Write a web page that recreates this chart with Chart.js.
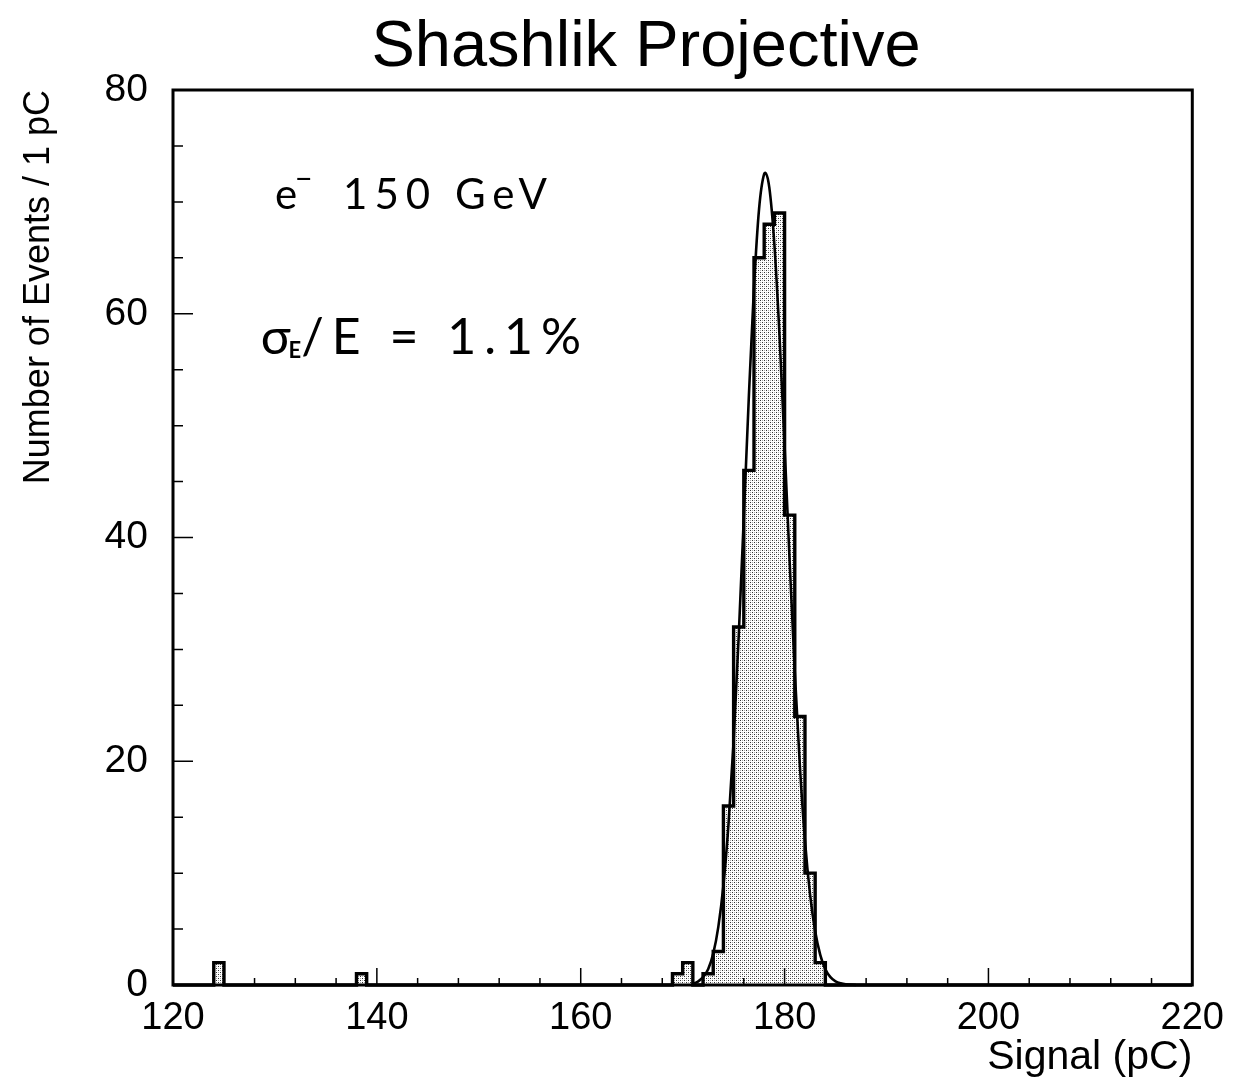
<!DOCTYPE html>
<html>
<head>
<meta charset="utf-8">
<script src="https://cdn.jsdelivr.net/npm/chart.js@4.4.1/dist/chart.umd.min.js"></script>
<style>
  html, body { margin: 0; padding: 0; background: #fff; }
  #wrap { width: 1235px; height: 1090px; }
</style>
</head>
<body>
<div id="wrap"><canvas id="signalChart"></canvas></div>
<script>
// 1 pC bins: low edge of each filled bin and its entries (all other bins are empty)
const binLow = [124, 138, 169, 170, 171, 172, 173, 174, 175, 176, 177, 178, 179, 180, 181, 182, 183];
const counts = [2, 1, 1, 2, 0, 1, 3, 16, 32, 46, 65, 68, 69, 42, 24, 10, 2];

// gaussian fit drawn over the peak
const fitX = [171, 171.5, 172, 172.5, 173, 173.5, 174, 174.5, 175, 175.5, 176, 176.5, 177, 177.5, 178, 178.1,
              178.5, 179, 179.5, 180, 180.5, 181, 181.5, 182, 182.5, 183, 183.5, 184, 184.5, 185, 185.5, 186, 187];
const fitY = [0.1, 0.3, 0.7, 1.4, 2.8, 5.2, 8.9, 14.4, 21.8, 31.2, 41.8, 52.7, 62.4, 69.4, 72.5, 72.6,
              71.3, 66.2, 58.1, 48.2, 37.8, 28.0, 19.6, 12.9, 8.1, 4.8, 2.7, 1.4, 0.7, 0.33, 0.15, 0.06, 0];

const xRange = [120, 220];
const yRange = [0, 80];

// step outline: one point per bin low edge, closed at the upper edge of the range
const histPoints = [];
for (let e = xRange[0]; e < xRange[1]; e++) {
  const i = binLow.indexOf(e);
  histPoints.push({ x: e, y: i >= 0 ? counts[i] : 0 });
}
histPoints.push({ x: xRange[1], y: 0 });

const fitPoints = fitX.map((v, i) => ({ x: v, y: fitY[i] }));

const canvas = document.getElementById('signalChart');

// dotted grey fill of the histogram
const makeStipple = () => {
  const c = document.createElement('canvas');
  c.width = 4; c.height = 4;
  const g = c.getContext('2d');
  g.fillStyle = '#ffffff';
  g.fillRect(0, 0, 4, 4);
  g.fillStyle = '#333333';
  g.fillRect(0, 0, 1, 1);
  g.fillRect(2, 2, 1, 1);
  g.fillStyle = '#aaaaaa';
  g.fillRect(2, 0, 1, 1);
  g.fillRect(0, 2, 1, 1);
  return canvas.getContext('2d').createPattern(c, 'repeat');
};

// title, frame, inward ticks and the text inside the plot
const framePlugin = {
  id: 'frame',
  afterDatasetsDraw(chart) {
    const { ctx, chartArea: a, scales: { x, y } } = chart;
    ctx.save();
    ctx.fillStyle = '#000';
    ctx.strokeStyle = '#000';

    ctx.font = '65px "Liberation Sans"';
    ctx.textAlign = 'center';
    ctx.textBaseline = 'alphabetic';
    ctx.fillText('Shashlik Projective', 646, 66);

    ctx.lineWidth = 1.5;
    ctx.beginPath();
    for (let v = yRange[0]; v <= yRange[1]; v += 5) {
      const py = y.getPixelForValue(v);
      const len = v % 20 === 0 ? 20 : 10;
      ctx.moveTo(a.left, py);
      ctx.lineTo(a.left + len, py);
    }
    for (let v = xRange[0]; v <= xRange[1]; v += 4) {
      const px = x.getPixelForValue(v);
      const len = (v - xRange[0]) % 20 === 0 ? 17 : 7;
      ctx.moveTo(px, a.bottom);
      ctx.lineTo(px, a.bottom - len);
    }
    ctx.stroke();

    ctx.lineWidth = 3;
    ctx.strokeRect(a.left, a.top, a.right - a.left, a.bottom - a.top);

    // e- 150 GeV
    ctx.textAlign = 'left';
    let px = x.getPixelForValue(130);
    let py = y.getPixelForValue(69.4);
    ctx.letterSpacing = '0px';
    ctx.font = '42px Lato';
    ctx.fillText('e', px, py);
    let w = ctx.measureText('e').width;
    ctx.font = '30px Lato';
    ctx.fillText('\u2212', px + w - 2, py - 20);
    ctx.font = '42px Lato';
    ctx.letterSpacing = '7px';
    ctx.fillText('150 GeV', px + w + 46, py);

    // sigma_E / E = 1.1%
    px = x.getPixelForValue(128.6);
    py = y.getPixelForValue(56.4);
    ctx.font = '50px Lato';
    ctx.letterSpacing = '0px';
    ctx.fillText('\u03c3', px, py);
    w = ctx.measureText('\u03c3').width;
    ctx.font = 'bold 22px Lato';
    ctx.fillText('E', px + w - 2, py + 4);
    const ws = ctx.measureText('E').width;
    ctx.font = '50px Lato';
    ctx.letterSpacing = '8px';
    ctx.fillText('/E = 1.1%', px + w + ws - 2, py);
    ctx.restore();
  }
};

new Chart(canvas, {
  type: 'line',
  data: {
    datasets: [
      {
        label: 'fit',
        data: fitPoints,
        borderColor: '#000',
        borderWidth: 2.6,
        cubicInterpolationMode: 'monotone',
        pointRadius: 0,
        fill: false,
        clip: 4,
        order: 0
      },
      {
        label: 'events',
        data: histPoints,
        borderColor: '#000',
        borderWidth: 3.4,
        stepped: 'before',
        pointRadius: 0,
        fill: 'origin',
        backgroundColor: makeStipple(),
        clip: 4,
        order: 1
      }
    ]
  },
  options: {
    responsive: true,
    maintainAspectRatio: false,
    animation: false,
    events: [],
    layout: { padding: { left: 0, right: 40, top: 90, bottom: 0 } },
    plugins: {
      legend: { display: false },
      tooltip: { enabled: false },
      title: { display: false }
    },
    scales: {
      x: {
        type: 'linear',
        min: xRange[0],
        max: xRange[1],
        grid: { display: false, drawTicks: false },
        border: { display: false },
        ticks: {
          stepSize: 20,
          color: '#000',
          padding: 11,
          maxRotation: 0,
          font: { family: 'Liberation Sans', size: 38 }
        },
        title: {
          display: true,
          text: 'Signal (pC)',
          align: 'end',
          color: '#000',
          font: { family: 'Liberation Sans', size: 41 },
          padding: { top: 0, bottom: 8 }
        },
        afterFit(scale) { scale.height = 105; }
      },
      y: {
        min: yRange[0],
        max: yRange[1],
        grid: { display: false, drawTicks: false },
        border: { display: false },
        ticks: {
          stepSize: 20,
          color: '#000',
          padding: 25,
          font: { family: 'Liberation Sans', size: 39 }
        },
        title: {
          display: true,
          text: 'Number of Events / 1 pC',
          align: 'end',
          color: '#000',
          font: { family: 'Liberation Sans', size: 36 },
          padding: { top: 17, bottom: 0 }
        },
        afterFit(scale) { scale.width = 173; }
      }
    }
  },
  plugins: [framePlugin]
});
</script>
</body>
</html>
